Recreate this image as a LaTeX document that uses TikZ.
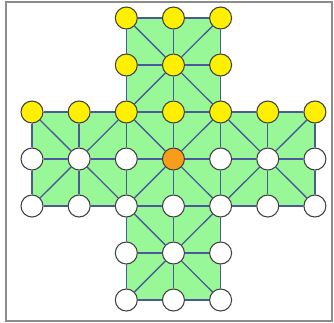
\documentclass[tikz,border=0pt]{standalone}
\usepackage{tikz}
\definecolor{boardGreen}{HTML}{98F898}
\definecolor{lineBlue}{HTML}{4A5A98}
\definecolor{pegYellow}{HTML}{FFF000}
\definecolor{pegOrange}{HTML}{F89C1C}
\definecolor{frameGray}{HTML}{8C8C8C}
% 1 if (#1,#2) lies on the cross-shaped board, else 0
\newcommand\isonboard[3]{\pgfmathtruncatemacro#3{(#1>=0)&&(#1<=6)&&(#2>=0)&&(#2<=6)&&(((#1>=2)&&(#1<=4))||((#2>=2)&&(#2<=4)))}}

\begin{document}
\begin{tikzpicture}[x=0.75pt,y=-0.75pt,hole/.style={circle,draw=black!75,line width=0.8pt,minimum size=16.5pt,inner sep=0pt,fill=white},goose/.style={hole,fill=pegYellow},fox/.style={hole,fill=pegOrange},link/.style={lineBlue,line width=1pt}]
    \useasboundingbox (0,0) rectangle (334,322);
    \draw[frameGray,line width=1.5pt] (6,2) rectangle (332,320.5);
    % board
    \fill[boardGreen,draw=lineBlue!60] (126.3,18)--(220.6,18)--(220.6,112)--(315,112)--(315,206)--(220.6,206)--(220.6,300)--(126.3,300)--(126.3,206)--(32,206)--(32,112)--(126.3,112)--cycle;
    % holes
    \foreach \i in {0,...,6}
      \foreach \j in {0,...,6} {
        \isonboard{\i}{\j}{\ok}
        \ifnum\ok=1
          \ifnum\j<3
            \node[goose] (p-\i-\j) at ({32+47.15*\i},{18+47*\j}) {};
          \else\ifnum\i\j=33
            \node[fox] (p-\i-\j) at ({32+47.15*\i},{18+47*\j}) {};
          \else
            \node[hole] (p-\i-\j) at ({32+47.15*\i},{18+47*\j}) {};
          \fi\fi
        \fi
      }
    % lines between holes
    \foreach \i in {0,...,6}
      \foreach \j in {0,...,6} {
        \isonboard{\i}{\j}{\ok}
        \ifnum\ok=1
          \pgfmathtruncatemacro\ii{\i+1}
          \pgfmathtruncatemacro\jj{\j+1}
          \pgfmathtruncatemacro\jm{\j-1}
          \isonboard{\ii}{\j}{\okr}
          \ifnum\okr=1 \draw[link] (p-\i-\j)--(p-\ii-\j); \fi
          \isonboard{\i}{\jj}{\okd}
          \ifnum\okd=1 \draw[link] (p-\i-\j)--(p-\i-\jj); \fi
          \pgfmathtruncatemacro\parity{mod(\i+\j,2)}
          \ifnum\parity=0
            \isonboard{\ii}{\jj}{\okdr}
            \ifnum\okdr=1 \draw[link] (p-\i-\j)--(p-\ii-\jj); \fi
            \isonboard{\ii}{\jm}{\okur}
            \ifnum\okur=1 \draw[link] (p-\i-\j)--(p-\ii-\jm); \fi
          \fi
        \fi
      }
  \end{tikzpicture}
\end{document}
